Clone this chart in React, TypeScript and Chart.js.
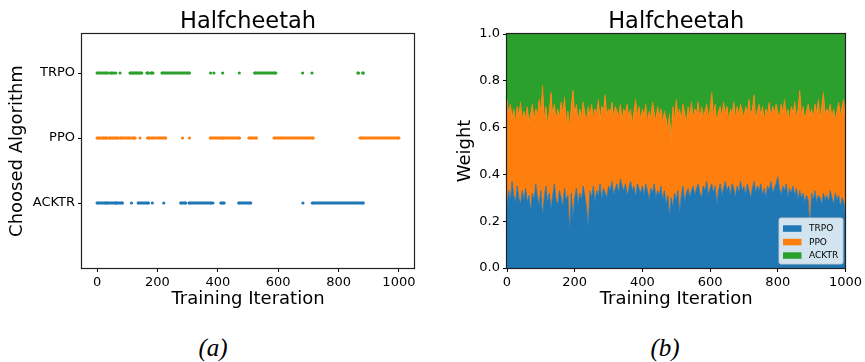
import React, { useEffect, useRef } from 'react';
import { Chart, registerables } from 'chart.js';
Chart.register(...registerables);

const FONT = "'DejaVu Sans', sans-serif";
const BLUE = '#1f77b4';
const ORANGE = '#ff7f0e';
const GREEN = '#2ca02c';

const TITLE = 'Halfcheetah';
const X_TITLE = 'Training Iteration';
const Y_TITLE_A = 'Choosed Algorithm';
const Y_TITLE_B = 'Weight';
const ALGO_LABELS = ['ACKTR', 'PPO', 'TRPO']; // y = 0, 1, 2 in panel (a)
const X_TICKS = [0, 200, 400, 600, 800, 1000];
const Y_TICKS_B = [0, 0.2, 0.4, 0.6, 0.8, 1.0];

// Panel (a): iteration ranges [start, end] in which each algorithm was chosen
const TRPO_RUNS = [
  [0, 34], [42, 42], [48, 50], [56, 56], [62, 62], [76, 76], [109, 118], [122, 134], [138, 148],
  [165, 170], [178, 185], [215, 306], [376, 376], [387, 387], [416, 416], [471, 471], [522, 592],
  [681, 681], [712, 712], [864, 866], [880, 882],
];
const PPO_RUNS = [
  [0, 12], [18, 22], [26, 34], [40, 52], [56, 70], [76, 123], [126, 126], [142, 142], [167, 174],
  [181, 227], [283, 283], [306, 306], [375, 412], [416, 472], [503, 528], [586, 716], [871, 1000],
];
const ACKTR_RUNS = [
  [0, 30], [33, 62], [64, 84], [114, 114], [136, 170], [183, 183], [221, 221], [277, 294],
  [305, 379], [384, 384], [410, 421], [469, 509], [682, 682], [713, 882],
];

// Panel (b): weights sampled every 5 iterations
const ITERATIONS = Array.from({ length: 201 }, (_, i) => i * 5);
const TRPO_W = [
  0.26,0.33,0.29,0.37,0.31,0.28,0.35,0.30,0.27,0.33,
  0.29,0.34,0.28,0.31,0.24,0.32,0.29,0.36,0.30,0.27,
  0.33,0.22,0.30,0.35,0.28,0.32,0.25,0.31,0.36,0.29,
  0.27,0.33,0.30,0.26,0.34,0.29,0.31,0.15,0.32,0.21,
  0.30,0.34,0.27,0.32,0.29,0.35,0.31,0.26,0.17,0.33,
  0.30,0.35,0.28,0.33,0.31,0.36,0.29,0.34,0.32,0.30,
  0.35,0.33,0.37,0.31,0.34,0.36,0.32,0.38,0.35,0.33,
  0.36,0.31,0.34,0.37,0.33,0.35,0.30,0.36,0.34,0.32,
  0.35,0.31,0.36,0.33,0.29,0.34,0.32,0.36,0.30,0.33,
  0.31,0.35,0.29,0.33,0.27,0.31,0.22,0.30,0.26,0.32,
  0.29,0.33,0.23,0.31,0.35,0.28,0.32,0.34,0.30,0.33,
  0.35,0.31,0.34,0.36,0.32,0.30,0.35,0.33,0.37,0.31,
  0.34,0.36,0.32,0.35,0.27,0.33,0.36,0.31,0.34,0.37,
  0.33,0.35,0.31,0.36,0.34,0.30,0.35,0.32,0.37,0.33,
  0.35,0.31,0.36,0.33,0.30,0.34,0.37,0.32,0.35,0.33,
  0.36,0.31,0.34,0.30,0.35,0.33,0.37,0.32,0.34,0.36,
  0.39,0.34,0.31,0.35,0.33,0.36,0.30,0.34,0.32,0.35,
  0.31,0.34,0.29,0.33,0.30,0.32,0.28,0.31,0.29,0.16,
  0.32,0.29,0.33,0.28,0.31,0.30,0.27,0.32,0.29,0.31,
  0.28,0.33,0.30,0.27,0.32,0.29,0.31,0.26,0.30,0.28,
  0.22,
];
const PPO_W = [
  0.46,0.33,0.41,0.27,0.37,0.34,0.34,0.35,0.44,0.30,
  0.38,0.30,0.41,0.31,0.42,0.38,0.34,0.32,0.35,0.45,
  0.33,0.56,0.34,0.34,0.33,0.35,0.50,0.34,0.34,0.34,
  0.41,0.31,0.41,0.40,0.39,0.33,0.36,0.45,0.37,0.55,
  0.35,0.36,0.35,0.36,0.35,0.36,0.35,0.37,0.52,0.32,
  0.40,0.29,0.40,0.33,0.41,0.27,0.40,0.33,0.42,0.35,
  0.33,0.33,0.34,0.33,0.35,0.31,0.33,0.32,0.28,0.35,
  0.30,0.39,0.30,0.31,0.28,0.32,0.42,0.29,0.35,0.31,
  0.33,0.34,0.34,0.29,0.38,0.30,0.39,0.30,0.33,0.36,
  0.34,0.33,0.33,0.34,0.37,0.28,0.44,0.24,0.43,0.31,
  0.43,0.32,0.45,0.32,0.35,0.38,0.30,0.35,0.35,0.38,
  0.29,0.37,0.32,0.35,0.31,0.39,0.30,0.34,0.33,0.33,
  0.34,0.39,0.33,0.35,0.35,0.34,0.33,0.33,0.37,0.29,
  0.36,0.28,0.37,0.30,0.37,0.34,0.34,0.33,0.33,0.34,
  0.29,0.38,0.30,0.39,0.35,0.34,0.37,0.31,0.32,0.37,
  0.29,0.38,0.29,0.38,0.31,0.38,0.27,0.37,0.32,0.34,
  0.28,0.30,0.39,0.31,0.39,0.29,0.38,0.29,0.37,0.31,
  0.40,0.30,0.39,0.43,0.35,0.37,0.35,0.36,0.41,0.49,
  0.36,0.35,0.37,0.38,0.41,0.33,0.42,0.43,0.36,0.37,
  0.38,0.37,0.34,0.41,0.31,0.38,0.40,0.39,0.39,0.44,
  0.40,
];
const ACKTR_W = [
  0.28,0.34,0.30,0.36,0.32,0.38,0.31,0.35,0.29,0.37,
  0.33,0.36,0.31,0.38,0.34,0.30,0.37,0.32,0.35,0.28,
  0.34,0.22,0.36,0.31,0.39,0.33,0.25,0.35,0.30,0.37,
  0.32,0.36,0.29,0.34,0.27,0.38,0.33,0.40,0.31,0.24,
  0.35,0.30,0.38,0.32,0.36,0.29,0.34,0.37,0.31,0.35,
  0.30,0.36,0.32,0.34,0.28,0.37,0.31,0.33,0.26,0.35,
  0.32,0.34,0.29,0.36,0.31,0.33,0.35,0.30,0.37,0.32,
  0.34,0.30,0.36,0.32,0.39,0.33,0.28,0.35,0.31,0.37,
  0.32,0.35,0.30,0.38,0.33,0.36,0.29,0.34,0.37,0.31,
  0.35,0.32,0.38,0.33,0.36,0.41,0.34,0.46,0.31,0.37,
  0.28,0.35,0.32,0.37,0.30,0.34,0.38,0.31,0.35,0.29,
  0.36,0.32,0.34,0.29,0.37,0.31,0.35,0.33,0.30,0.36,
  0.32,0.25,0.35,0.30,0.38,0.33,0.31,0.36,0.29,0.34,
  0.31,0.37,0.32,0.34,0.29,0.36,0.31,0.35,0.30,0.33,
  0.36,0.31,0.34,0.28,0.35,0.32,0.26,0.37,0.33,0.30,
  0.35,0.31,0.37,0.32,0.34,0.29,0.36,0.31,0.34,0.30,
  0.33,0.36,0.30,0.34,0.28,0.35,0.32,0.37,0.31,0.34,
  0.29,0.36,0.32,0.24,0.35,0.31,0.37,0.33,0.30,0.35,
  0.32,0.36,0.30,0.34,0.28,0.37,0.31,0.25,0.35,0.32,
  0.34,0.30,0.36,0.32,0.37,0.33,0.29,0.35,0.31,0.28,
  0.38,
];

function runsToPoints(runs: number[][], y: number) {
  const pts: { x: number; y: number | null }[] = [];
  runs.forEach(([a, b]) => {
    pts.push({ x: a, y });
    if (b !== a) pts.push({ x: b, y });
    pts.push({ x: b, y: null });
  });
  return pts;
}

const titlePlugin = {
  id: 'fixedTitle',
  afterDraw(chart: any) {
    const { ctx, chartArea } = chart;
    ctx.save();
    ctx.font = `22.5px ${FONT}`;
    ctx.fillStyle = '#000';
    ctx.textAlign = 'center';
    ctx.textBaseline = 'alphabetic';
    ctx.fillText(TITLE, (chartArea.left + chartArea.right) / 2, 28);
    ctx.restore();
  },
};

const framePlugin = {
  id: 'frame',
  afterDraw(chart: any) {
    const { ctx, chartArea } = chart;
    ctx.save();
    ctx.strokeStyle = '#222';
    ctx.lineWidth = 1.2;
    ctx.strokeRect(
      Math.round(chartArea.left) - 0.5,
      Math.round(chartArea.top) - 0.5,
      Math.round(chartArea.right - chartArea.left) + 1,
      Math.round(chartArea.bottom - chartArea.top) + 1
    );
    ctx.restore();
  },
};

const legendPlugin = {
  id: 'boxLegend',
  afterDraw(chart: any) {
    const { ctx } = chart;
    const items = [
      { label: 'TRPO', color: BLUE },
      { label: 'PPO', color: ORANGE },
      { label: 'ACKTR', color: GREEN },
    ];
    const bx = 347, by = 218, bw = 64, bh = 46;
    ctx.save();
    ctx.beginPath();
    const r = 2;
    ctx.moveTo(bx + r, by);
    ctx.lineTo(bx + bw - r, by);
    ctx.quadraticCurveTo(bx + bw, by, bx + bw, by + r);
    ctx.lineTo(bx + bw, by + bh - r);
    ctx.quadraticCurveTo(bx + bw, by + bh, bx + bw - r, by + bh);
    ctx.lineTo(bx + r, by + bh);
    ctx.quadraticCurveTo(bx, by + bh, bx, by + bh - r);
    ctx.lineTo(bx, by + r);
    ctx.quadraticCurveTo(bx, by, bx + r, by);
    ctx.closePath();
    ctx.fillStyle = 'rgba(255,255,255,0.8)';
    ctx.fill();
    ctx.strokeStyle = 'rgba(204,204,204,0.9)';
    ctx.lineWidth = 1;
    ctx.stroke();
    ctx.font = `9px ${FONT}`;
    ctx.textBaseline = 'middle';
    ctx.textAlign = 'left';
    items.forEach((it, i) => {
      const cy = 228.5 + i * 13.5;
      ctx.fillStyle = it.color;
      ctx.fillRect(351, cy - 3.2, 18.5, 6.5);
      ctx.fillStyle = '#000';
      ctx.fillText(it.label, 377, cy + 0.5);
    });
    ctx.restore();
  },
};

const tickFont = { size: 13, family: FONT };
const axisTitleFont = { size: 18, family: FONT };

export default function App() {
  const refA = useRef<HTMLCanvasElement>(null);
  const refB = useRef<HTMLCanvasElement>(null);

  useEffect(() => {
    Chart.defaults.font.family = FONT;

    const pointDs = (label: string, runs: number[][], y: number, color: string) => ({
      label,
      data: runsToPoints(runs, y),
      showLine: true,
      spanGaps: false,
      borderColor: color,
      backgroundColor: color,
      borderWidth: 3,
      pointRadius: 1.6,
      pointBorderWidth: 0,
      pointBackgroundColor: color,
      pointHoverRadius: 0,
    });

    const gridOpts = { display: true, drawOnChartArea: false, drawTicks: true, tickLength: 4, tickColor: '#000' };
    const borderOpts = { display: false };

    const chartA = new Chart(refA.current!, {
      type: 'scatter',
      data: {
        datasets: [
          pointDs('ACKTR', ACKTR_RUNS, 0, BLUE),
          pointDs('PPO', PPO_RUNS, 1, ORANGE),
          pointDs('TRPO', TRPO_RUNS, 2, GREEN),
        ],
      },
      options: {
        animation: false,
        responsive: false,
        devicePixelRatio: 1,
        layout: { padding: { left: 0, right: 18, top: 34, bottom: 0 } },
        plugins: { legend: { display: false }, tooltip: { enabled: false }, title: { display: false } },
        scales: {
          x: {
            type: 'linear',
            min: -50,
            max: 1050,
            afterBuildTicks: (s: any) => { s.ticks = X_TICKS.map((v) => ({ value: v })); },
            afterFit: (s: any) => { s.height = 52; },
            ticks: { font: tickFont, color: '#000', padding: 3, maxRotation: 0, autoSkip: false, callback: (v: any) => String(v) },
            grid: gridOpts,
            border: borderOpts,
            title: { display: true, text: X_TITLE, font: axisTitleFont, color: '#000', padding: { top: 0, bottom: 10 } },
          },
          y: {
            type: 'linear',
            min: -1,
            max: 2.6,
            afterBuildTicks: (s: any) => { s.ticks = [0, 1, 2].map((v) => ({ value: v })); },
            afterFit: (s: any) => { s.width = 82; },
            ticks: { font: tickFont, color: '#000', padding: 3, autoSkip: false, callback: (v: any) => ALGO_LABELS[v] },
            grid: gridOpts,
            border: borderOpts,
            title: { display: true, text: Y_TITLE_A, font: axisTitleFont, color: '#000', padding: { top: 7, bottom: 0 } },
          },
        },
      },
      plugins: [titlePlugin, framePlugin],
    } as any);

    const areaDs = (label: string, vals: number[], color: string, fill: any) => ({
      label,
      data: ITERATIONS.map((x, i) => ({ x, y: vals[i] })),
      borderColor: color,
      backgroundColor: color,
      borderWidth: 0.8,
      pointRadius: 0,
      tension: 0,
      fill,
    });

    const chartB = new Chart(refB.current!, {
      type: 'line',
      data: {
        datasets: [
          areaDs('TRPO', TRPO_W, BLUE, 'origin'),
          areaDs('PPO', PPO_W, ORANGE, '-1'),
          areaDs('ACKTR', ACKTR_W, GREEN, '-1'),
        ],
      },
      options: {
        animation: false,
        responsive: false,
        devicePixelRatio: 1,
        layout: { padding: { left: 0, right: 17, top: 34, bottom: 0 } },
        plugins: { legend: { display: false }, tooltip: { enabled: false }, title: { display: false } },
        scales: {
          x: {
            type: 'linear',
            min: 0,
            max: 1000,
            afterBuildTicks: (s: any) => { s.ticks = X_TICKS.map((v) => ({ value: v })); },
            afterFit: (s: any) => { s.height = 52; },
            ticks: { font: tickFont, color: '#000', padding: 3, maxRotation: 0, autoSkip: false, callback: (v: any) => String(v) },
            grid: gridOpts,
            border: borderOpts,
            title: { display: true, text: X_TITLE, font: axisTitleFont, color: '#000', padding: { top: 0, bottom: 10 } },
          },
          y: {
            type: 'linear',
            stacked: true,
            min: 0,
            max: 1,
            afterBuildTicks: (s: any) => { s.ticks = Y_TICKS_B.map((v) => ({ value: v })); },
            afterFit: (s: any) => { s.width = 75; },
            ticks: { font: tickFont, color: '#000', padding: 3, autoSkip: false, callback: (v: any) => Number(v).toFixed(1) },
            grid: gridOpts,
            border: borderOpts,
            title: { display: true, text: Y_TITLE_B, font: axisTitleFont, color: '#000', padding: { top: 23, bottom: 0 } },
          },
        },
      },
      plugins: [titlePlugin, framePlugin, legendPlugin],
    } as any);

    return () => {
      chartA.destroy();
      chartB.destroy();
    };
  }, []);

  const captionStyle: React.CSSProperties = {
    position: 'absolute',
    top: 334,
    textAlign: 'center',
    fontFamily: "'Liberation Serif', serif",
    fontStyle: 'italic',
    fontSize: 25,
    lineHeight: 'normal',
    color: '#000',
  };

  return (
    <div style={{ position: 'fixed', left: 0, top: 0, width: 865, height: 362, background: '#fff', overflow: 'hidden' }}>
      <canvas ref={refA} width={432} height={320} style={{ position: 'absolute', left: 0, top: 0 }} />
      <canvas ref={refB} width={433} height={320} style={{ position: 'absolute', left: 432, top: 0 }} />
      <div style={{ ...captionStyle, left: 0, width: 426 }}>(a)</div>
      <div style={{ ...captionStyle, left: 432, width: 466 }}>(b)</div>
    </div>
  );
}
